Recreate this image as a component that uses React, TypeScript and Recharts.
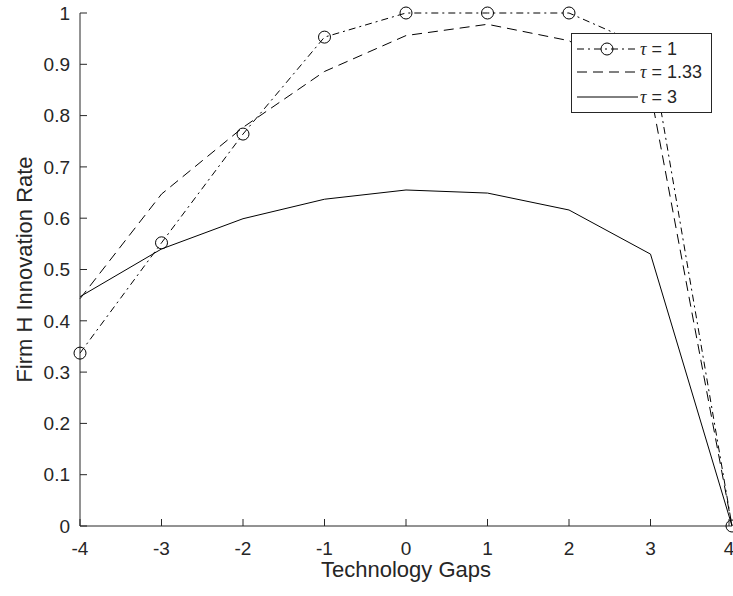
import { Legend, Line, LineChart, XAxis, YAxis } from "recharts";

const gaps = [-4, -3, -2, -1, 0, 1, 2, 3, 4];
const tau1 = [0.337, 0.552, 0.764, 0.953, 1.0, 1.0, 1.0, 0.93, 0.0];
const tau133 = [0.443, 0.647, 0.777, 0.886, 0.956, 0.978, 0.946, 0.846, 0.0];
const tau3 = [0.447, 0.54, 0.599, 0.637, 0.655, 0.649, 0.616, 0.53, 0.0];

const xTicks = [-4, -3, -2, -1, 0, 1, 2, 3, 4];
const yTicks = [0, 0.1, 0.2, 0.3, 0.4, 0.5, 0.6, 0.7, 0.8, 0.9, 1];

const data = gaps.map((g, i) => ({
  gap: g,
  t1: tau1[i],
  t133: tau133[i],
  t3: tau3[i],
}));

const INK = "#262626";
const FONT = "'Liberation Sans', Arial, Helvetica, sans-serif";
const DASH = "10 6";
const DASHDOT = "7 4 2 4";
const TICK_LEN = 7;

// ticks point inward (matlab style), labels stay outside
function BottomTick(props: any) {
  const { x, y, payload } = props;
  return (
    <g>
      <line x1={x} x2={x} y1={y - 16} y2={y - 16 - TICK_LEN} stroke={INK} />
      <text x={x} y={y} dy="0.71em" textAnchor="middle" fill={INK} fontSize={19} fontFamily={FONT}>
        {payload.value}
      </text>
    </g>
  );
}

function LeftTick(props: any) {
  const { x, y, payload } = props;
  const label = `${Math.round(payload.value * 10) / 10}`;
  return (
    <g>
      <line x1={x + 10} x2={x + 10 + TICK_LEN} y1={y} y2={y} stroke={INK} />
      <text x={x} y={y} dy="0.355em" textAnchor="end" fill={INK} fontSize={19} fontFamily={FONT}>
        {label}
      </text>
    </g>
  );
}

function Tau({ x, y, rest }: { x: number; y: number; rest: string }) {
  return (
    <text x={x} y={y} fontSize={18} fontFamily={FONT} fill={INK}>
      <tspan fontStyle="italic" fontFamily="'Liberation Serif', serif">
        τ
      </tspan>
      <tspan>{rest}</tspan>
    </text>
  );
}

function LegendBox() {
  return (
    <svg width={142} height={81} style={{ display: "block" }}>
      <rect x={0.5} y={0.5} width={140} height={79} fill="#fff" stroke={INK} strokeWidth={1} />
      <line x1={6} x2={67} y1={16} y2={16} stroke="#000" strokeDasharray={DASHDOT} />
      <circle cx={36} cy={16} r={6} fill="none" stroke="#000" />
      <Tau x={69} y={22} rest=" = 1" />
      <line x1={6} x2={67} y1={39} y2={39} stroke="#000" strokeDasharray={DASH} />
      <Tau x={69} y={45} rest=" = 1.33" />
      <line x1={6} x2={67} y1={64} y2={64} stroke="#000" />
      <Tau x={69} y={70} rest=" = 3" />
    </svg>
  );
}

export default function App() {
  return (
    <div style={{ position: "absolute", left: 0, top: 0, width: 733, height: 596, background: "#fff" }}>
      <LineChart
        width={733}
        height={596}
        data={data}
        margin={{ top: 13, right: 1, left: 0, bottom: 0 }}
        style={{ fontFamily: FONT }}
      >
        <XAxis
          dataKey="gap"
          type="number"
          domain={[-4, 4]}
          ticks={xTicks}
          height={70}
          tickSize={0}
          tickLine={false}
          tickMargin={16}
          stroke={INK}
          tick={<BottomTick />}
          label={{
            value: "Technology Gaps",
            position: "insideBottom",
            offset: 19,
            fill: INK,
            fontSize: 22,
          }}
        />
        <XAxis
          xAxisId="top"
          dataKey="gap"
          type="number"
          orientation="top"
          domain={[-4, 4]}
          ticks={xTicks}
          height={0}
          mirror
          tickSize={TICK_LEN}
          tick={false}
          stroke={INK}
        />
        <YAxis
          type="number"
          domain={[0, 1]}
          ticks={yTicks}
          width={80}
          tickSize={0}
          tickLine={false}
          tickMargin={10}
          stroke={INK}
          tick={<LeftTick />}
          label={{
            value: "Firm H Innovation Rate",
            position: "insideLeft",
            angle: -90,
            offset: 24,
            fill: INK,
            fontSize: 22,
            style: { textAnchor: "middle" },
          }}
        />
        <YAxis
          yAxisId="right"
          orientation="right"
          type="number"
          domain={[0, 1]}
          ticks={yTicks}
          width={0}
          mirror
          tickSize={TICK_LEN}
          tick={false}
          stroke={INK}
        />
        <Legend
          layout="horizontal"
          align="center"
          verticalAlign="middle"
          content={() => <LegendBox />}
          wrapperStyle={{ left: 571, top: 33, width: 142, height: 81 }}
        />
        <Line
          dataKey="t1"
          stroke="#000"
          strokeWidth={1}
          strokeDasharray={DASHDOT}
          dot={{ r: 6, fill: "none", stroke: "#000", strokeWidth: 1, strokeDasharray: "" }}
          activeDot={false}
          isAnimationActive={false}
        />
        <Line
          dataKey="t133"
          stroke="#000"
          strokeWidth={1}
          strokeDasharray={DASH}
          dot={false}
          activeDot={false}
          isAnimationActive={false}
        />
        <Line
          dataKey="t3"
          stroke="#000"
          strokeWidth={1}
          dot={false}
          activeDot={false}
          isAnimationActive={false}
        />
      </LineChart>
    </div>
  );
}
